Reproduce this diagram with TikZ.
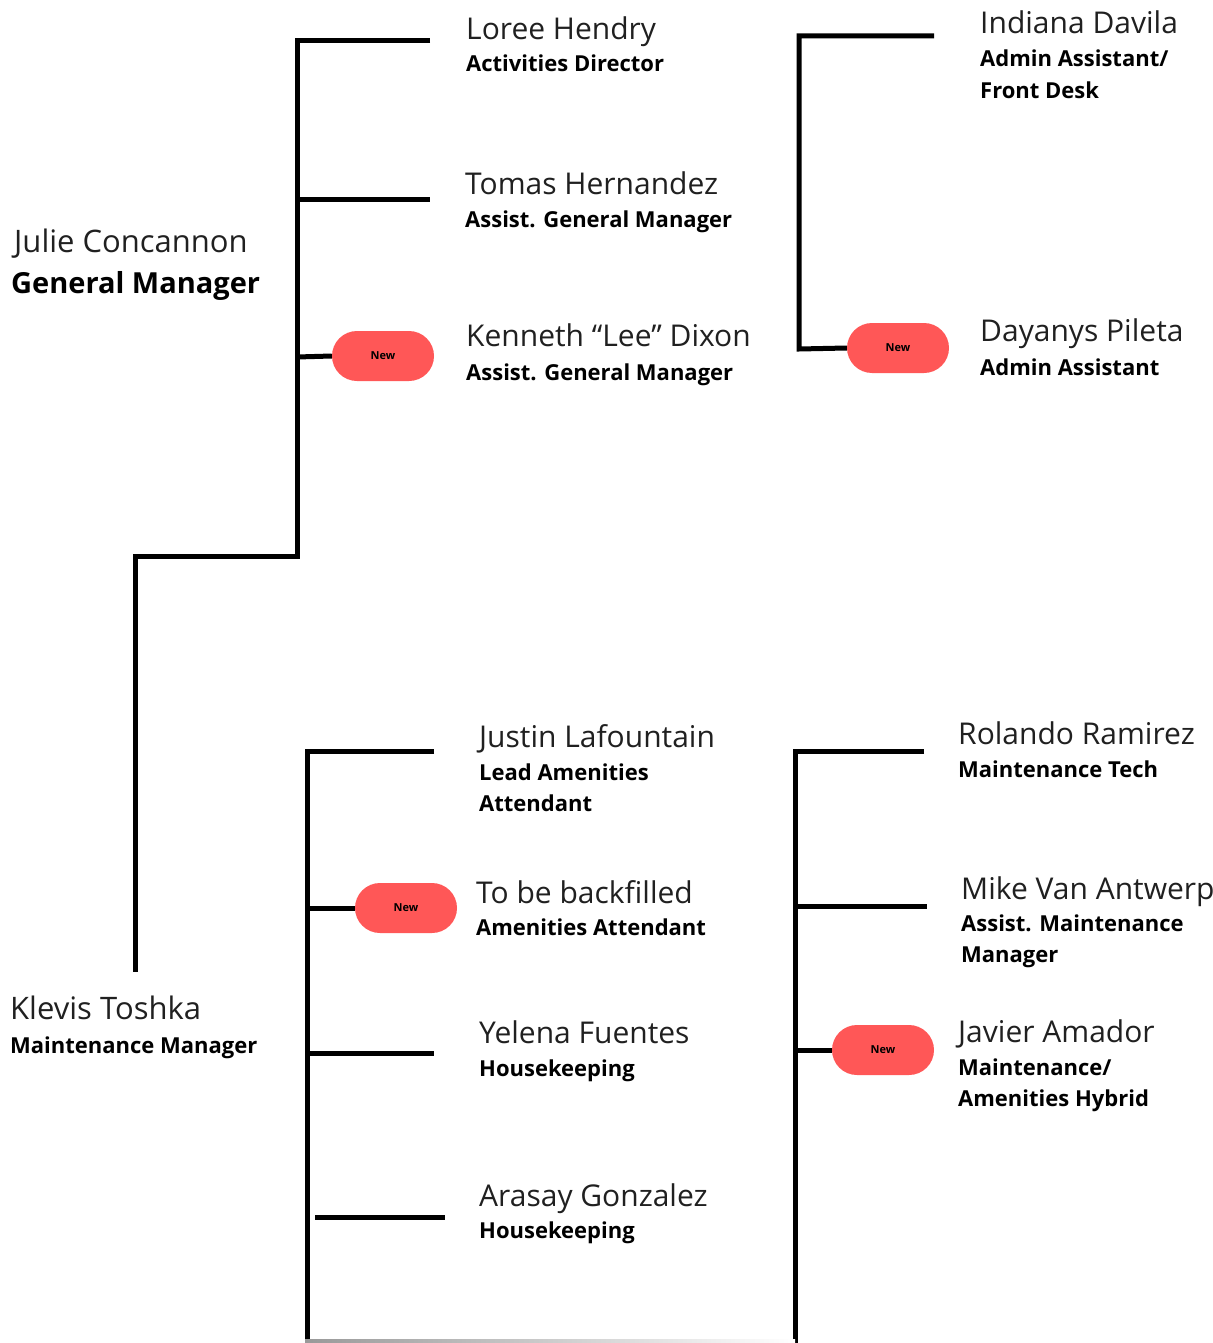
\documentclass[tikz,border=0pt]{standalone}
\usepackage{fontspec}
\setmainfont{Open Sans}
\definecolor{badgered}{HTML}{FF5757}
\definecolor{namegray}{HTML}{202020}
\begin{document}
\begin{tikzpicture}[x=1pt,y=-1pt,
  conn/.style={line width=5pt, line join=miter, line cap=butt, black},
  pname/.style={anchor=base west, inner sep=0pt, text=namegray, font=\fontsize{30}{30}\selectfont},
  ptitle/.style={anchor=base west, inner sep=0pt, text=black, font=\fontsize{22}{22}\selectfont\bfseries},
  bigname/.style={pname, font=\fontsize{31}{31}\selectfont},
  bigtitle/.style={anchor=base west, inner sep=0pt, text=black, font=\fontsize{29}{29}\selectfont\bfseries},
  newbadge/.style={fill=badgered, draw=none, rounded corners=25pt, minimum width=102pt, minimum height=50pt, inner sep=0pt, font=\fontsize{11}{11}\selectfont\bfseries, text=black}
]
\useasboundingbox (0,0) rectangle (1212,1343);

% ---------- people: names and titles ----------
\node[bigname]  (julieN)  at (14,252) {Julie Concannon};
\node[bigtitle] (julieT)  at (11,293) {General Manager};

\node[pname]  (loreeN) at (466,40) {Loree Hendry};
\node[ptitle] (loreeT) at (466,72) {Activities Director};

\node[pname]  (tomasN) at (465,194) {Tomas Hernandez};
\node[ptitle] (tomasT) at (465,227) {Assist. General Manager};

\node[pname]  (kenN) at (466,346) {Kenneth “Lee” Dixon};
\node[ptitle] (kenT) at (466,380) {Assist. General Manager};

\node[pname]  (indN)  at (980,34) {Indiana Davila};
\node[ptitle] (indT1) at (980,67) {Admin Assistant/};
\node[ptitle] (indT2) at (980,99) {Front Desk};

\node[pname]  (dayN) at (980,341) {Dayanys Pileta};
\node[ptitle] (dayT) at (980,375) {Admin Assistant};

\node[bigname] (klevN) at (10,1019) {Klevis Toshka};
\node[ptitle]  (klevT) at (10,1053) {Maintenance Manager};

\node[pname]  (jusN)  at (479,747) {Justin Lafountain};
\node[ptitle] (jusT1) at (479,780) {Lead Amenities};
\node[ptitle] (jusT2) at (479,811) {Attendant};

\node[pname]  (tbbN) at (476,903) {To be backfilled};
\node[ptitle] (tbbT) at (476,935) {Amenities Attendant};

\node[pname]  (yelN) at (479,1043) {Yelena Fuentes};
\node[ptitle] (yelT) at (479,1076) {Housekeeping};

\node[pname]  (araN) at (479,1206) {Arasay Gonzalez};
\node[ptitle] (araT) at (479,1238) {Housekeeping};

\node[pname]  (rolN) at (958,744) {Rolando Ramirez};
\node[ptitle] (rolT) at (958,777) {Maintenance Tech};

\node[pname]  (mikeN)  at (961,899) {Mike Van Antwerp};
\node[ptitle] (mikeT1) at (961,931) {Assist. Maintenance};
\node[ptitle] (mikeT2) at (961,962) {Manager};

\node[pname]  (javN)  at (958,1042) {Javier Amador};
\node[ptitle] (javT1) at (958,1075) {Maintenance/};
\node[ptitle] (javT2) at (958,1106) {Amenities Hybrid};

% ---------- "New" badges ----------
\node[newbadge] (badgeKen) at (383,356) {New};
\node[newbadge] (badgeDay) at (898,348) {New};
\node[newbadge] (badgeTbb) at (406,908) {New};
\node[newbadge] (badgeJav) at (883,1050) {New};

% ---------- connector coordinates ----------
% general manager bracket
\coordinate (gmTop)   at (297,41);
\coordinate (loreeE)  at (430,41);
\coordinate (gmMid)   at (297,200);
\coordinate (tomasE)  at (430,200);
\coordinate (gmKen)   at (297,357);
\coordinate (gmBot)   at (297,556);
\coordinate (gmTurn)  at (135,556);
\coordinate (klevTop) at (135,972);
% admin bracket
\coordinate (adTop)   at (799,36);
\coordinate (indE)    at (934,36);
\coordinate (adBot)   at (799,349);
% amenities bracket
\coordinate (amTop)   at (307,751);
\coordinate (jusE)    at (434,751);
\coordinate (amTbb)   at (307,908);
\coordinate (amYel)   at (307,1053);
\coordinate (yelE)    at (434,1053);
\coordinate (amAraS)  at (315,1217);
\coordinate (araE)    at (445,1217);
\coordinate (amBot)   at (307,1350);
% maintenance bracket
\coordinate (mtTop)   at (795,751);
\coordinate (rolE)    at (924,751);
\coordinate (mtMike)  at (795,906);
\coordinate (mikeE)   at (927,906);
\coordinate (mtJav)   at (795,1050);
\coordinate (mtBot)   at (795,1350);
\coordinate (baseL)   at (305,1339);
\coordinate (baseR)   at (795,1343);

% ---------- connectors ----------
\draw[conn] (loreeE) -- (gmTop) -- (gmBot) -- (gmTurn) -- (klevTop);
\draw[conn] (gmMid) -- (tomasE);
\draw[conn] (gmKen) -- (badgeKen.west);

\draw[conn] (indE) -- (adTop) -- (adBot) -- (badgeDay.west);

\draw[conn] (jusE) -- (amTop) -- (amBot);
\draw[conn] (amTbb) -- (badgeTbb.west);
\draw[conn] (amYel) -- (yelE);
\draw[conn] (amAraS) -- (araE);

\draw[conn] (rolE) -- (mtTop) -- (mtBot);
\draw[conn] (mtMike) -- (mikeE);
\draw[conn] (mtJav) -- (badgeJav.west);

\shade[left color=gray!80, right color=white] (baseL) rectangle (baseR);
\end{tikzpicture}
\end{document}
